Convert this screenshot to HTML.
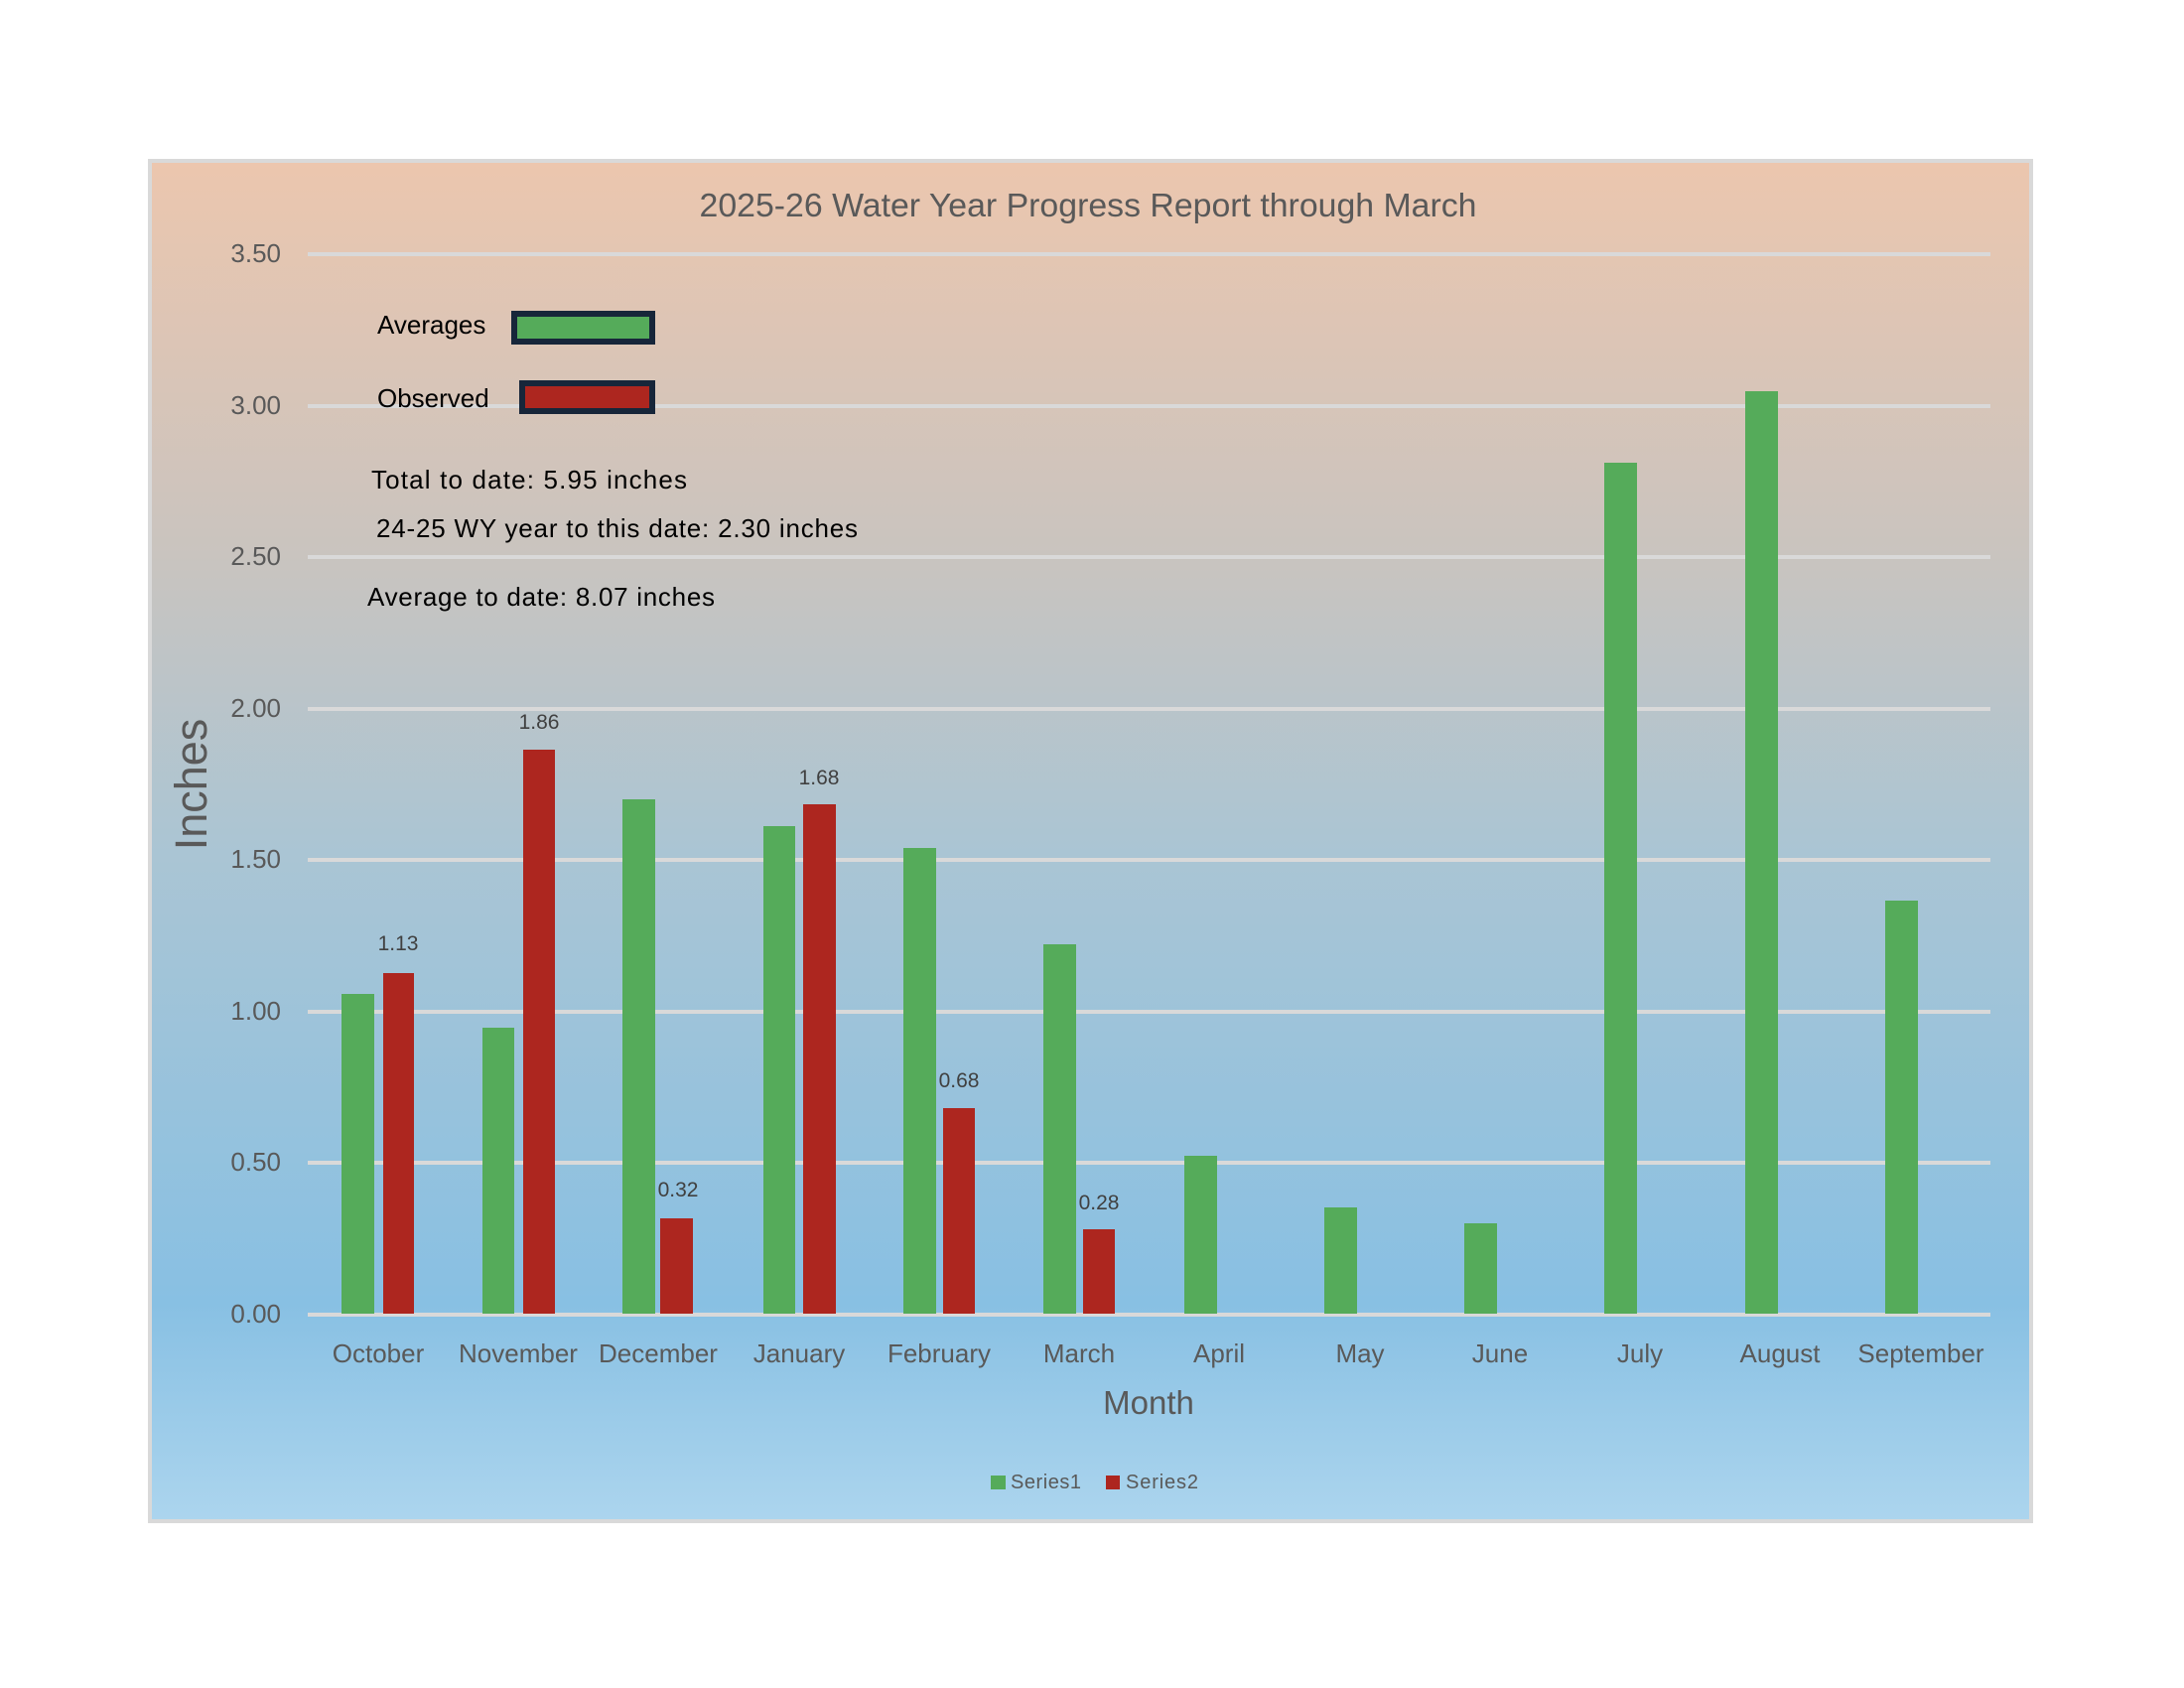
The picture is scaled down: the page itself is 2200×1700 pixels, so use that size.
<!DOCTYPE html>
<html><head><meta charset="utf-8"><style>html,body{margin:0;padding:0;background:#fff}svg{display:block}</style></head>
<body>
<svg width="2200" height="1700" viewBox="0 0 2200 1700" xmlns="http://www.w3.org/2000/svg" font-family="Liberation Sans, sans-serif">
<defs>
<linearGradient id="bg" x1="0" y1="0" x2="0" y2="1">
<stop offset="0" stop-color="#ecc6ae"/>
<stop offset="0.29" stop-color="#c9c4bf"/>
<stop offset="0.51" stop-color="#aac5d4"/>
<stop offset="0.84" stop-color="#88c0e3"/>
<stop offset="1" stop-color="#acd5ee"/>
</linearGradient>
</defs>
<rect x="151" y="162" width="1895" height="1370" fill="url(#bg)" stroke="#d9d9d9" stroke-width="4"/>
<g fill="#d9d9d9">
<rect x="310" y="254" width="1695" height="4"/>
<rect x="310" y="407" width="1695" height="4"/>
<rect x="310" y="559" width="1695" height="4"/>
<rect x="310" y="712" width="1695" height="4"/>
<rect x="310" y="864" width="1695" height="4"/>
<rect x="310" y="1017" width="1695" height="4"/>
<rect x="310" y="1169" width="1695" height="4"/>
<rect x="310" y="1322" width="1695" height="4"/>
</g>
<g fill="#595959" font-size="26" text-anchor="end">
<text x="283" y="264">3.50</text>
<text x="283" y="417">3.00</text>
<text x="283" y="569">2.50</text>
<text x="283" y="722">2.00</text>
<text x="283" y="874">1.50</text>
<text x="283" y="1027">1.00</text>
<text x="283" y="1179">0.50</text>
<text x="283" y="1332">0.00</text>
</g>
<text x="1096" y="218" fill="#595959" font-size="33" text-anchor="middle" textLength="783" lengthAdjust="spacingAndGlyphs">2025-26 Water Year Progress Report through March</text>
<text transform="translate(208,790) rotate(-90)" fill="#595959" font-size="45" text-anchor="middle">Inches</text>
<g fill="#55ab5a">
<rect x="344" y="1001" width="33" height="322"/>
<rect x="486" y="1035" width="32" height="288"/>
<rect x="627" y="805" width="33" height="518"/>
<rect x="769" y="832" width="32" height="491"/>
<rect x="910" y="854" width="33" height="469"/>
<rect x="1051" y="951" width="33" height="372"/>
<rect x="1193" y="1164" width="33" height="159"/>
<rect x="1334" y="1216" width="33" height="107"/>
<rect x="1475" y="1232" width="33" height="91"/>
<rect x="1616" y="466" width="33" height="857"/>
<rect x="1758" y="394" width="33" height="929"/>
<rect x="1899" y="907" width="33" height="416"/>
</g>
<g fill="#ad261f">
<rect x="386" y="980" width="31" height="343"/>
<rect x="527" y="755" width="32" height="568"/>
<rect x="665" y="1227" width="33" height="96"/>
<rect x="809" y="810" width="33" height="513"/>
<rect x="950" y="1116" width="32" height="207"/>
<rect x="1091" y="1238" width="32" height="85"/>
</g>
<g fill="#404040" font-size="21" text-anchor="middle">
<text x="401" y="957">1.13</text>
<text x="543" y="734">1.86</text>
<text x="683" y="1205">0.32</text>
<text x="825" y="790">1.68</text>
<text x="966" y="1095">0.68</text>
<text x="1107" y="1218">0.28</text>
</g>
<g fill="#595959" font-size="26" text-anchor="middle">
<text x="381" y="1372">October</text>
<text x="522" y="1372">November</text>
<text x="663" y="1372">December</text>
<text x="805" y="1372">January</text>
<text x="946" y="1372">February</text>
<text x="1087" y="1372">March</text>
<text x="1228" y="1372">April</text>
<text x="1370" y="1372">May</text>
<text x="1511" y="1372">June</text>
<text x="1652" y="1372">July</text>
<text x="1793" y="1372">August</text>
<text x="1935" y="1372">September</text>
</g>
<text x="1157" y="1424" fill="#595959" font-size="33" text-anchor="middle">Month</text>
<rect x="998" y="1486" width="15" height="14" fill="#55ab5a"/>
<text x="1018" y="1499" fill="#595959" font-size="20" textLength="71">Series1</text>
<rect x="1114" y="1486" width="14" height="14" fill="#ad261f"/>
<text x="1134" y="1499" fill="#595959" font-size="20" textLength="73">Series2</text>
<g fill="#000" font-size="26">
<text x="380" y="336">Averages</text>
<text x="380" y="410">Observed</text>
<text x="374" y="492" textLength="318">Total to date:  5.95  inches</text>
<text x="379" y="541" textLength="485">24-25 WY year to this date:  2.30 inches</text>
<text x="370" y="610" textLength="350">Average to date:  8.07 inches</text>
</g>
<rect x="518" y="316" width="139" height="28" fill="#55ab5a" stroke="#17263a" stroke-width="6"/>
<rect x="526" y="386" width="131" height="28" fill="#ad261f" stroke="#17263a" stroke-width="6"/>
</svg>
</body></html>
